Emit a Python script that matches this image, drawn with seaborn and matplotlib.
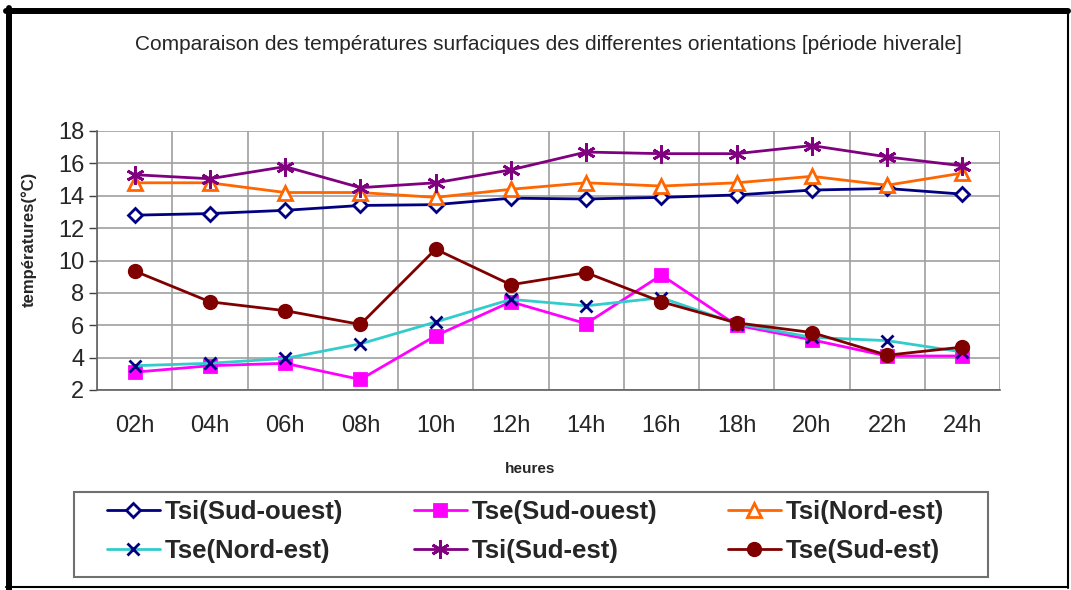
import matplotlib
matplotlib.use("Agg")
import matplotlib.pyplot as plt
from matplotlib.lines import Line2D
from matplotlib.patches import Rectangle
import seaborn as sns
import pandas as pd

# data
hours = ['02h', '04h', '06h', '08h', '10h', '12h', '14h', '16h', '18h', '20h', '22h', '24h']
tsi_sud_ouest = [12.8, 12.9, 13.1, 13.4, 13.45, 13.85, 13.8, 13.9, 14.05, 14.35, 14.45, 14.1]
tse_sud_ouest = [3.1, 3.5, 3.65, 2.65, 5.35, 7.45, 6.1, 9.1, 6.0, 5.1, 4.1, 4.1]
tsi_nord_est = [14.8, 14.8, 14.2, 14.2, 13.9, 14.4, 14.8, 14.6, 14.8, 15.2, 14.65, 15.4]
tse_nord_est = [3.5, 3.65, 3.95, 4.85, 6.2, 7.6, 7.2, 7.7, 6.1, 5.25, 5.05, 4.35]
tsi_sud_est = [15.3, 15.05, 15.8, 14.5, 14.8, 15.6, 16.7, 16.6, 16.6, 17.1, 16.4, 15.85]
tse_sud_est = [9.35, 7.45, 6.9, 6.05, 10.7, 8.5, 9.25, 7.45, 6.15, 5.55, 4.15, 4.65]

labels = ['Tsi(Sud-ouest)', 'Tse(Sud-ouest)', 'Tsi(Nord-est)',
          'Tse(Nord-est)', 'Tsi(Sud-est)', 'Tse(Sud-est)']
series = [tsi_sud_ouest, tse_sud_ouest, tsi_nord_est,
          tse_nord_est, tsi_sud_est, tse_sud_est]

# line colour, marker, marker edge, marker face, marker size
styles = [
    ('#000080', 'D', '#000080', 'white', 7.5),
    ('#FF00FF', 's', '#FF00FF', '#FF00FF', 8),
    ('#FF6600', '^', '#FF6600', 'white', 10),
    ('#33CCCC', 'x', '#000080', '#000080', 8),
    ('#800080', (6, 2, 0), '#800080', '#800080', 13),
    ('#800000', 'o', '#800000', '#800000', 9),
]

sns.set_style("white")
plt.rcParams['font.family'] = ['Liberation Sans', 'DejaVu Sans']

fig = plt.figure(figsize=(10.71, 5.90), dpi=100)
ax = fig.add_axes([97 / 1071, 1 - 390 / 590, 903 / 1071, 259 / 590])

for lab, vals, (col, mk, mec, mfc, ms) in zip(labels, series, styles):
    df = pd.DataFrame({'heure': hours, 'temp': vals})
    sns.lineplot(data=df, x='heure', y='temp', ax=ax, color=col, marker=mk,
                 markeredgecolor=mec, markerfacecolor=mfc, markersize=ms,
                 markeredgewidth=2, linewidth=2, label=lab, legend=False)

ax.set_xlim(-0.5, len(hours) - 0.5)
ax.set_ylim(2, 18)
ax.set_yticks(range(2, 19, 2))
ax.set_xticks(range(len(hours)))
ax.set_xticklabels(hours)
ax.set_xticks([i - 0.5 for i in range(len(hours) + 1)], minor=True)

ax.grid(False)
ax.yaxis.grid(True, color='#a0a0a0', linewidth=1.2)
ax.xaxis.grid(True, which='minor', color='#a0a0a0', linewidth=1.2)
ax.set_axisbelow(True)

for s in ['top', 'right']:
    ax.spines[s].set_visible(False)
for s in ['left', 'bottom']:
    ax.spines[s].set_color('#606060')
    ax.spines[s].set_linewidth(1.2)

ax.tick_params(axis='x', which='major', length=0, pad=18, labelsize=17)
ax.tick_params(axis='x', which='minor', length=6, width=1, color='#404040', direction='out')
ax.tick_params(axis='y', length=6, width=1, color='#404040', direction='out',
               left=True, pad=3, labelsize=17)

ax.set_xlabel('heures', fontsize=11, fontweight='bold')
ax.set_ylabel('températures(°C)', fontsize=12, fontweight='bold')
ax.xaxis.set_label_coords((530 - 97) / 903, (390 - 462) / 259)
ax.yaxis.set_label_coords((37 - 97) / 903, (390 - 239) / 259)

fig.text(0.512, 1 - 45 / 590, 'Comparaison des températures surfaciques des differentes orientations [période hiverale]',
         ha='center', va='center', fontsize=15)

# legend, row-wise order as in the reference
handles, hl = ax.get_legend_handles_labels()
order = [0, 3, 1, 4, 2, 5]
leg = fig.legend([handles[i] for i in order], [hl[i] for i in order],
                 ncol=3, loc='upper left',
                 bbox_to_anchor=(107 / 1071, 1 - 500 / 590),
                 prop={'size': 18.5, 'weight': 'bold'}, frameon=False,
                 handlelength=2.05, handletextpad=0.2, borderaxespad=0,
                 borderpad=0, labelspacing=0.6, columnspacing=2.75)
fig.add_artist(Rectangle((74 / 1071, 1 - 577 / 590), 914 / 1071, 85 / 590,
                         transform=fig.transFigure, fill=False,
                         edgecolor='#707070', linewidth=1.5, zorder=0))

# outer frame
fig.add_artist(Line2D([9 / 1071, 9 / 1071], [0.5 / 590, 1 - 8 / 590], color='black', lw=4.3, transform=fig.transFigure))
fig.add_artist(Line2D([6 / 1071, 1068 / 1071], [1 - 11 / 590, 1 - 11 / 590], color='black', lw=4.3, transform=fig.transFigure))
fig.add_artist(Line2D([1068 / 1071, 1068 / 1071], [2 / 590, 1 - 11 / 590], color='black', lw=1.5, transform=fig.transFigure))
fig.add_artist(Line2D([6 / 1071, 1068 / 1071], [3 / 590, 3 / 590], color='black', lw=1.5, transform=fig.transFigure))

fig.savefig('out.png', dpi=100)
